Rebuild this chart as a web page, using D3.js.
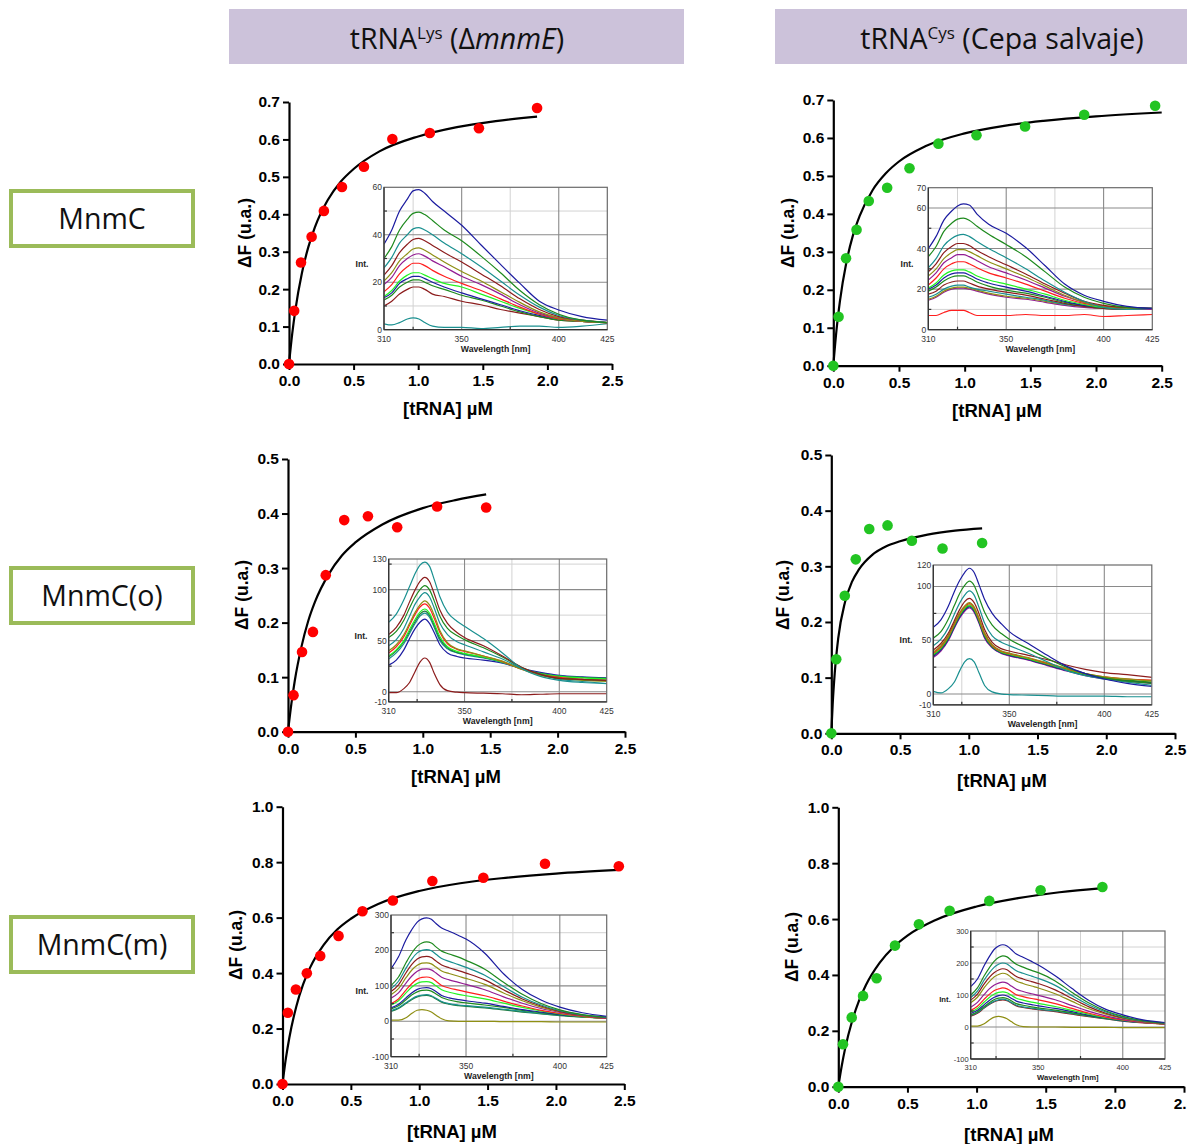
<!DOCTYPE html>
<html>
<head>
<meta charset="utf-8">
<script src="https://cdn.jsdelivr.net/npm/d3@7"></script>
<style>
  body { margin: 0; background: #fff; }
  svg { display: block; }
</style>
</head>
<body>
<svg id="fig" width="1187" height="1144"></svg>
<script>
// ================= DATA =================
const rowLabels = ["MnmC", "MnmC(o)", "MnmC(m)"];

// Titration: tRNA concentration (µM) vs fluorescence change ΔF (u.a.)
const concLysMnmC = [0, 0.04, 0.093, 0.175, 0.27, 0.41, 0.58, 0.80, 1.09, 1.47, 1.92];
const dFLysMnmC   = [0, 0.142, 0.271, 0.340, 0.409, 0.473, 0.527, 0.601, 0.617, 0.630, 0.684];
const concCysMnmC = [0, 0.04, 0.097, 0.177, 0.27, 0.41, 0.58, 0.80, 1.09, 1.46, 1.91, 2.45];
const dFCysMnmC   = [0, 0.129, 0.283, 0.358, 0.434, 0.469, 0.520, 0.585, 0.607, 0.630, 0.661, 0.685];
const concLysMnmCo = [0, 0.041, 0.104, 0.185, 0.28, 0.417, 0.593, 0.81, 1.106, 1.47];
const dFLysMnmCo   = [0, 0.067, 0.146, 0.183, 0.287, 0.388, 0.395, 0.375, 0.413, 0.411];
const concCysMnmCo = [0, 0.036, 0.098, 0.178, 0.276, 0.409, 0.586, 0.809, 1.097];
const dFCysMnmCo   = [0, 0.133, 0.247, 0.3125, 0.367, 0.3735, 0.346, 0.332, 0.342];
const concLysMnmCm = [0, 0.039, 0.098, 0.178, 0.276, 0.41, 0.585, 0.807, 1.096, 1.469, 1.92, 2.46];
const dFLysMnmCm   = [0, 0.257, 0.341, 0.399, 0.462, 0.534, 0.623, 0.662, 0.732, 0.744, 0.794, 0.785];
const concCysMnmCm = [0, 0.034, 0.097, 0.179, 0.277, 0.41, 0.583, 0.805, 1.092, 1.463, 1.91];
const dFCysMnmCm   = [0, 0.152, 0.248, 0.325, 0.388, 0.505, 0.581, 0.630, 0.665, 0.703, 0.715];

// Saturation-binding fit lines
const fitXLysMnmC = [0, 0.025, 0.05, 0.1, 0.15, 0.2, 0.3, 0.4, 0.5, 0.7, 1.0, 1.3, 1.6, 1.92];
const fitYLysMnmC = [0, 0.081, 0.146, 0.243, 0.313, 0.365, 0.438, 0.487, 0.521, 0.568, 0.608, 0.633, 0.649, 0.661];
const fitXCysMnmC = [0, 0.025, 0.05, 0.1, 0.15, 0.2, 0.3, 0.4, 0.5, 0.7, 1.0, 1.3, 1.6, 2.0, 2.5];
const fitYCysMnmC = [0, 0.096, 0.169, 0.273, 0.344, 0.394, 0.463, 0.507, 0.538, 0.578, 0.612, 0.632, 0.645, 0.657, 0.667];
const fitXLysMnmCo = [0, 0.025, 0.05, 0.1, 0.15, 0.2, 0.3, 0.4, 0.5, 0.7, 1.0, 1.25, 1.47];
const fitYLysMnmCo = [0, 0.051, 0.093, 0.156, 0.203, 0.238, 0.288, 0.323, 0.347, 0.380, 0.410, 0.425, 0.435];
const fitXCysMnmCo = [0, 0.01, 0.025, 0.05, 0.1, 0.15, 0.2, 0.3, 0.4, 0.5, 0.7, 0.9, 1.097];
const fitYCysMnmCo = [0, 0.052, 0.108, 0.170, 0.236, 0.272, 0.294, 0.321, 0.336, 0.345, 0.357, 0.364, 0.368];
const fitXLysMnmCm = [0, 0.025, 0.05, 0.1, 0.15, 0.2, 0.3, 0.4, 0.5, 0.7, 1.0, 1.3, 1.6, 2.0, 2.46];
const fitYLysMnmCm = [0, 0.093, 0.167, 0.278, 0.358, 0.418, 0.501, 0.557, 0.596, 0.649, 0.696, 0.724, 0.742, 0.759, 0.772];
const fitXCysMnmCm = [0, 0.025, 0.05, 0.1, 0.15, 0.2, 0.3, 0.4, 0.5, 0.7, 1.0, 1.3, 1.6, 1.91];
const fitYCysMnmCm = [0, 0.075, 0.138, 0.235, 0.308, 0.364, 0.444, 0.500, 0.541, 0.596, 0.645, 0.675, 0.696, 0.711];

const xTickValues = [0, 0.5, 1.0, 1.5, 2.0, 2.5];

// Emission spectra (wavelength in nm, intensity)
const wlRow1  = [310, 314, 318, 322, 325, 328, 331, 335, 341, 350, 360, 370, 380, 390, 400, 412, 425];
const wlRow23 = [310, 314, 318, 321, 324, 326.5, 329, 331.5, 334, 337, 341, 346, 350, 360, 370, 380, 390, 400, 412, 425];

const specLysMnmC = [
  [36, 42, 50, 55, 58.5, 59, 57.5, 54, 50, 44, 35.7, 27.5, 19.5, 12, 8.3, 5.5, 4],
  [30, 35, 42, 46.5, 49, 49.5, 48.5, 46, 42, 37.5, 31, 24, 16.5, 10.5, 6.5, 4, 3],
  [26, 30.5, 36.5, 40, 42.5, 43, 42, 40, 36.5, 32, 26.5, 20.5, 14.5, 9.5, 6, 4, 3],
  [23, 27, 32.5, 36, 38, 38.5, 37.5, 35.5, 32.5, 28.5, 23.5, 18.5, 13, 8.5, 5.5, 4, 3],
  [20.5, 24, 29, 32, 34, 34.5, 33.5, 31.5, 28.5, 24.5, 20.5, 16, 11.5, 7.5, 5, 3.5, 3],
  [19, 22, 27, 30, 31.5, 32, 31, 29, 26.5, 22.5, 19, 15, 10.5, 7, 5, 3.5, 3],
  [16, 19, 23.5, 26.5, 28, 28, 27, 25, 22.5, 19.5, 16.5, 13, 9.5, 6.5, 4.5, 3.5, 3],
  [14, 16.5, 20.5, 23, 24, 24, 23, 21.5, 19.5, 18, 15, 12, 9, 6.5, 4.5, 3.5, 3],
  [13.5, 15.5, 19.5, 21.5, 22.5, 22.5, 21.5, 20, 18, 15.5, 13, 10.5, 8, 6, 4.5, 3.5, 3],
  [12.5, 14.5, 18, 20, 21, 21, 20, 18.5, 17, 14.5, 12.5, 10, 7.5, 5.5, 4, 3.5, 3],
  [10, 12, 15, 17, 18, 18, 17, 15, 14, 12, 10.5, 8.5, 7, 5.5, 4, 3.5, 3],
  [2.5, 2, 3, 4.5, 5, 4.5, 3, 1.5, 1, 1, 0.5, 1, 1.5, 1.5, 1, 1.5, 2.5]
];
const specCysMnmC = [
  [40, 46, 54, 58.5, 61, 62, 61.5, 57, 52, 47.5, 40.5, 31.5, 22.5, 17, 14, 11.5, 10.5],
  [36, 41, 48.5, 52.5, 54.5, 55, 54, 51, 47, 42, 36, 28.5, 21, 16, 13, 11, 10.5],
  [30.5, 35, 41.5, 45, 46.5, 47, 46, 43.5, 40, 35.5, 30, 24, 18.5, 14, 11, 10, 10.5],
  [28.5, 32.5, 38, 41, 42.5, 42.5, 41.5, 39, 36, 32, 27.5, 22.5, 18, 14, 12, 11, 10.5],
  [26.5, 30, 35, 38, 39.5, 39.5, 38.5, 36.5, 33.5, 30, 26, 21.5, 17, 13.5, 11.5, 10.5, 10.5],
  [24.5, 28, 33, 35.5, 37, 37, 36, 34, 31, 28, 24.5, 20.5, 16.5, 13.5, 11.5, 10.5, 10],
  [22, 25.5, 30, 32.5, 33.5, 33.5, 32.5, 30.5, 28, 25.5, 22.5, 19, 15.5, 13, 11.5, 10.5, 10],
  [20.5, 23, 27, 29, 29.5, 29.5, 28.5, 26.5, 24.5, 22.5, 20, 17.5, 14.5, 12.5, 11, 10.5, 10],
  [20, 22, 25.5, 27.5, 28, 28, 27, 25, 23, 21, 19, 16.5, 14, 12, 11, 10.5, 10],
  [19, 21, 24, 26, 26.5, 26.5, 25.5, 23.5, 21.5, 19.5, 18, 16, 13.5, 12, 11, 10.5, 10],
  [17.5, 19, 22, 23.5, 24, 24, 23, 21.5, 20, 18.5, 17, 15, 13, 11.5, 10.5, 10, 10],
  [16, 17.5, 20, 21.5, 22, 22, 21, 20, 19, 17.5, 16, 14.5, 12.5, 11.5, 10.5, 10, 10],
  [15, 16.5, 19, 20.5, 21, 21, 20.5, 19.5, 18, 16.5, 15.5, 14, 12.5, 11.5, 10.5, 10, 10],
  [14.5, 16, 18.5, 20, 20.5, 20.5, 20, 19, 17.5, 16, 15, 13.5, 12, 11, 10.5, 10, 10],
  [7, 7, 8.5, 9.5, 9.5, 9.5, 8.5, 7, 7, 7, 7.5, 7, 7, 7.5, 6.5, 7, 7.5]
];
const specLysMnmCo = [
  [68, 76, 90, 103, 116, 124, 127, 123, 110, 93, 78, 69, 64, 52, 38, 23, 15, 11, 9, 8],
  [56, 63, 75, 88, 100, 108, 112, 108, 96, 80, 67, 58, 53, 45, 35, 24, 17, 13, 12, 11],
  [53, 59, 70, 82, 93, 100, 104, 100, 89, 74, 62, 55, 51, 43, 34, 24, 17, 13, 12, 11],
  [45, 51, 62, 74, 86, 93, 97, 93, 82, 67, 56, 49, 46, 39, 32, 23, 17, 12, 10, 8],
  [40, 46, 56, 67, 78, 85, 89, 85, 75, 60, 48, 42, 40, 35, 30, 22, 16, 13, 11, 10],
  [38, 44, 54, 65, 76, 83, 86, 82, 72, 58, 47, 41.5, 39.5, 35, 29.5, 22, 17, 14, 12, 11],
  [35, 41, 50, 61, 71, 78, 81, 77, 67, 54, 44, 39.5, 37.5, 34, 29, 22.5, 17.5, 15, 13.5, 12.5],
  [34, 40, 49, 59, 69, 76, 79, 75, 65, 52, 43, 38.5, 37, 33.5, 29, 22.5, 18, 15, 14, 13],
  [32, 38, 47, 57, 67, 74, 77, 73, 63, 50, 42, 38, 36, 33, 28.5, 22.5, 18, 15.5, 14, 13],
  [26, 31, 41, 52, 62, 68, 71, 67, 58, 46, 38, 34.5, 33, 31, 28, 23, 19, 16, 14.5, 13.5],
  [-1, -1, 3, 9, 20, 29, 33, 29, 18, 7, 1, -0.5, -1, -1.5, -2, -3, -2.5, -2, -2, -2]
];
const specCysMnmCo = [
  [62, 69, 82, 95, 106, 113, 117, 113, 102, 88, 75, 65, 58, 47, 36, 26, 19, 14, 10, 7],
  [52, 58, 70, 82, 94, 101, 105, 101, 90, 76, 64, 56, 51, 42, 33, 25, 19, 15, 12, 10],
  [45, 51, 62, 74, 85, 92, 96, 92, 81, 66, 54, 48, 45, 38, 30, 22, 17, 14, 11, 8],
  [41, 47, 57, 68, 79, 86, 89, 85, 75, 60, 48, 42, 40, 36, 32, 27, 23, 20, 18, 15.5],
  [39, 45, 55, 66, 76, 82, 85, 81, 71, 57, 46, 40, 38, 34, 29, 24, 19, 16, 14, 12],
  [38, 44, 54, 65, 75, 81, 84, 80, 70, 56, 45, 39.5, 37.5, 33.5, 28.5, 23.5, 19, 16, 14, 13],
  [37, 43, 53, 64, 74, 80, 83, 79, 69, 55, 44.5, 39, 37, 33, 28, 23, 18.5, 15.5, 14, 12.5],
  [36, 42, 52, 63, 73, 79, 82, 78, 68, 54, 44, 38.5, 36.5, 32.5, 27.5, 22.5, 18, 15, 13, 11],
  [35, 41, 51, 62, 72, 78, 81, 77, 67, 53, 43.5, 38, 36, 32, 27, 22, 17.5, 14.5, 12.5, 10.5],
  [34, 40, 50, 61, 71, 77, 80, 76, 66, 52, 43, 37.5, 35.5, 31.5, 26.5, 21.5, 17, 14, 12, 10],
  [2.5, 1, 5, 11, 22, 30, 33, 30, 20, 8, 2, 0, -0.5, -1, -1.5, -2, -2, -2, -2.5, -2.5]
];
const specLysMnmCm = [
  [148, 182, 230, 258, 280, 289, 292, 288, 276, 263, 254, 242, 232, 192, 134, 90, 60, 40, 24, 14],
  [101, 125, 165, 192, 212, 221, 224, 221, 210, 198, 190, 181, 172, 147, 110, 76, 50, 32, 19, 12],
  [92, 113, 150, 175, 193, 200, 202, 199, 189, 177, 169, 160, 152, 130, 98, 68, 46, 30, 18, 11],
  [84, 103, 137, 160, 176, 182, 183, 180, 170, 159, 151, 143, 136, 117, 89, 63, 43, 28, 17, 10],
  [75, 92, 123, 144, 158, 164, 165, 162, 153, 142, 135, 127, 121, 104, 80, 58, 40, 27, 16, 10],
  [65, 80, 108, 127, 141, 147, 148, 145, 136, 124, 117, 110, 104, 89, 69, 51, 36, 25, 15, 9],
  [50, 63, 88, 106, 119, 124, 125, 122, 113, 101, 94, 88, 83, 72, 57, 43, 31, 22, 14, 8],
  [46, 58, 80, 96, 107, 111, 112, 109, 100, 89, 82, 76, 72, 63, 51, 39, 29, 21, 13, 8],
  [38, 48, 66, 80, 90, 94, 95, 92, 84, 73, 66, 61, 58, 51, 42, 33, 26, 19, 13, 8],
  [35, 44, 61, 74, 83, 87, 88, 85, 77, 67, 60, 55, 52, 46, 39, 31, 24, 18, 12, 8],
  [30, 38, 52, 63, 71, 74, 75, 72, 65, 56, 50, 46, 44, 40, 34, 28, 22, 17, 12, 9],
  [28, 36, 50, 61, 69, 72, 73, 70, 63, 54, 48, 44, 42, 38, 32, 26, 21, 16, 12, 9],
  [3, 3, 10, 22, 31, 33, 31, 26, 17, 7, 1, 0, 0, 0, -1, -1, -1, -2, -2, -2]
];
const specCysMnmCm = [
  [126, 150, 192, 220, 243, 253, 257, 253, 242, 228, 218, 205, 194, 160, 120, 83, 55, 38, 22, 14],
  [100, 122, 160, 185, 206, 217, 222, 219, 208, 196, 187, 177, 170, 144, 108, 75, 50, 33, 20, 13],
  [92, 112, 147, 169, 187, 196, 200, 197, 187, 176, 168, 159, 152, 130, 98, 69, 47, 31, 19, 12],
  [84, 103, 135, 155, 170, 178, 182, 179, 169, 158, 150, 142, 136, 116, 89, 63, 43, 29, 18, 11],
  [76, 93, 123, 142, 157, 164, 168, 165, 155, 144, 136, 128, 122, 104, 80, 57, 40, 27, 17, 11],
  [62, 77, 102, 119, 131, 137, 140, 137, 128, 118, 111, 104, 99, 85, 67, 49, 35, 24, 15, 10],
  [52, 65, 87, 102, 114, 119, 122, 119, 111, 101, 95, 89, 85, 73, 58, 43, 31, 22, 14, 9],
  [47, 58, 78, 92, 103, 108, 110, 107, 99, 90, 84, 78, 74, 64, 52, 40, 29, 21, 14, 9],
  [42, 52, 70, 83, 93, 98, 100, 97, 90, 81, 75, 70, 66, 58, 48, 37, 28, 20, 14, 10],
  [38, 48, 64, 76, 86, 90, 92, 89, 82, 73, 68, 63, 60, 53, 44, 35, 27, 20, 14, 10],
  [36, 45, 61, 72, 81, 85, 87, 84, 77, 68, 63, 59, 56, 50, 42, 34, 26, 19, 14, 10],
  [34, 43, 59, 70, 79, 83, 85, 82, 75, 66, 61, 57, 54, 48, 40, 32, 25, 18, 13, 10],
  [3, 3, 10, 22, 31, 33, 31, 26, 17, 7, 1, 0, 0, 0, -1, -1, -1, -2, -2, -2]
];

// Inset axis labels
const insetXLabels = [310, 350, 400, 425];
const insetYLabelsLysMnmC = [0, 20, 40, 60];
const insetYLabelsCysMnmC = [0, 20, 40, 60, 70];
const insetYLabelsLysMnmCo = [-10, 0, 50, 100, 130];
const insetYLabelsCysMnmCo = [-10, 0, 50, 100, 120];
const insetYLabelsMnmCm = [-100, 0, 100, 200, 300];

// ================= STYLE =================
const FONT = "Arial, 'Liberation Sans', Helvetica, sans-serif";
const HEAD_FONT = "'Open Sans', 'Noto Sans', 'DejaVu Sans', sans-serif";
const C = {
  blue: "#1c1ca0", green: "#1e8a1e", teal: "#1a9090", maroon: "#8c1c1c",
  olive: "#8f8f14", purple: "#931d93", red: "#ff1e1e", lime: "#22f522",
  dgreen: "#1f7a3a"
};
const RED_DOT = "#ff0000", GREEN_DOT = "#22c422";

const svg = d3.select("#fig");

// ---------- column headers ----------
function header(x, w, cx, parts) {
  svg.append("rect").attr("x", x).attr("y", 9).attr("width", w).attr("height", 55)
    .attr("fill", "#ccc2da");
  const t = svg.append("text").attr("x", cx).attr("y", 49)
    .attr("text-anchor", "middle")
    .style("font-family", HEAD_FONT).style("font-size", "28.5px").style("fill", "#111");
  parts.forEach(p => {
    const s = t.append("tspan").text(p.t);
    if (p.sup) s.attr("dy", -10).style("font-size", "17px");
    if (p.down) s.attr("dy", 10);
    if (p.it) s.style("font-style", "italic");
  });
}
header(229, 455, 457, [{t: "tRNA"}, {t: "Lys", sup: true}, {t: " (\u0394", down: true}, {t: "mnmE", it: true}, {t: ")"}]);
header(775, 412, 1002, [{t: "tRNA"}, {t: "Cys", sup: true}, {t: " (Cepa salvaje)", down: true}]);

// ---------- row labels ----------
const rowBoxY = [191, 568, 917];
rowLabels.forEach((lab, i) => {
  svg.append("rect").attr("x", 11).attr("y", rowBoxY[i]).attr("width", 182).attr("height", 55)
    .attr("fill", "#fff").attr("stroke", "#9bbb59").attr("stroke-width", 4);
  svg.append("text").attr("x", 102).attr("y", rowBoxY[i] + 38)
    .attr("text-anchor", "middle")
    .style("font-family", HEAD_FONT).style("font-size", "28.5px").style("fill", "#111")
    .text(lab);
});

// ---------- titration panels ----------
function drawPanel(L, conc, dF, fitX, fitY, dotColor) {
  const x = d3.scaleLinear().domain([0, 2.5]).range([L.x0, L.x1]);
  const y = d3.scaleLinear().domain([0, L.yMax]).range([L.y0, L.y1]);
  const g = svg.append("g");

  const xa = g.append("g").attr("transform", `translate(0,${L.y0})`)
    .call(d3.axisBottom(x).tickValues(xTickValues).tickFormat(d3.format(".1f"))
      .tickSize(6).tickSizeOuter(0).tickPadding(5));
  const yTicks = d3.range(0, L.yMax + 1e-9, L.yStep);
  const ya = g.append("g").attr("transform", `translate(${L.x0},0)`)
    .call(d3.axisLeft(y).tickValues(yTicks).tickFormat(d3.format(".1f"))
      .tickSize(6).tickSizeOuter(0).tickPadding(3));
  [xa, ya].forEach(a => {
    a.select(".domain").attr("stroke", "#000").attr("stroke-width", 2.2);
    a.selectAll(".tick line").attr("stroke", "#000").attr("stroke-width", 2);
    a.selectAll(".tick text").style("font-family", FONT).style("font-size", "15.5px")
      .style("font-weight", "bold").attr("fill", "#000");
  });

  g.append("text").attr("x", L.xt[0]).attr("y", L.xt[1]).attr("text-anchor", "middle")
    .style("font-family", FONT).style("font-size", "18.5px").style("font-weight", "bold")
    .text("[tRNA] \u00b5M");
  g.append("text").attr("transform", `translate(${L.yt[0]},${L.yt[1]}) rotate(-90)`)
    .attr("text-anchor", "middle").attr("dy", "0.35em")
    .style("font-family", FONT).style("font-size", "17.5px").style("font-weight", "bold")
    .text("\u0394F (u.a.)");

  const line = d3.line().x(d => x(d[0])).y(d => y(d[1])).curve(d3.curveMonotoneX);
  g.append("path").datum(fitX.map((v, i) => [v, fitY[i]]))
    .attr("d", line).attr("fill", "none").attr("stroke", "#000").attr("stroke-width", 2.2);

  g.selectAll("circle.pt").data(conc.map((v, i) => [v, dF[i]])).join("circle")
    .attr("class", "pt").attr("cx", d => x(d[0])).attr("cy", d => y(d[1]))
    .attr("r", 5.3).attr("fill", dotColor);
}

// ---------- spectra insets ----------
let clipId = 0;
function drawInset(I, wl, curves, colors, yLabels) {
  const x = d3.scaleLinear().domain([310, 425]).range([I.l, I.r]);
  const y = d3.scaleLinear().domain([I.yMin, I.yMax]).range([I.b, I.t]);
  const g = svg.append("g");
  g.append("rect").attr("x", I.l).attr("y", I.t).attr("width", I.r - I.l).attr("height", I.b - I.t)
    .attr("fill", "#fff");

  // light grid
  [325, 375].forEach(v => g.append("line").attr("x1", x(v)).attr("x2", x(v)).attr("y1", I.t).attr("y2", I.b)
    .attr("stroke", "#d2d2d2").attr("stroke-width", 1));
  I.minor.forEach(v => g.append("line").attr("x1", I.l).attr("x2", I.r).attr("y1", y(v)).attr("y2", y(v))
    .attr("stroke", "#d2d2d2").attr("stroke-width", 1));
  // dark grid
  [350, 400].forEach(v => g.append("line").attr("x1", x(v)).attr("x2", x(v)).attr("y1", I.t).attr("y2", I.b)
    .attr("stroke", "#8a8a8a").attr("stroke-width", 1.1));
  I.major.forEach(v => g.append("line").attr("x1", I.l).attr("x2", I.r).attr("y1", y(v)).attr("y2", y(v))
    .attr("stroke", "#8a8a8a").attr("stroke-width", 1.1));

  const id = "clip" + (clipId++);
  svg.append("clipPath").attr("id", id).append("rect")
    .attr("x", I.l).attr("y", I.t).attr("width", I.r - I.l).attr("height", I.b - I.t);
  const line = d3.line().x((d, i) => x(wl[i])).y(d => y(d)).curve(d3.curveMonotoneX);
  const cg = g.append("g").attr("clip-path", `url(#${id})`);
  curves.slice().reverse().forEach((c, k) => {
    const idx = curves.length - 1 - k;
    cg.append("path").attr("d", line(c)).attr("fill", "none")
      .attr("stroke", colors[idx]).attr("stroke-width", 1.2);
  });

  // frame
  g.append("rect").attr("x", I.l).attr("y", I.t).attr("width", I.r - I.l).attr("height", I.b - I.t)
    .attr("fill", "none").attr("stroke", "#6a6a6a").attr("stroke-width", 1.2);
  g.append("line").attr("x1", I.l).attr("x2", I.l).attr("y1", I.t).attr("y2", I.b)
    .attr("stroke", "#333").attr("stroke-width", 1.3);
  g.append("line").attr("x1", I.l).attr("x2", I.r).attr("y1", I.b).attr("y2", I.b)
    .attr("stroke", "#333").attr("stroke-width", 1.3);
  // minor ticks
  I.minor.forEach(v => g.append("line").attr("x1", I.l).attr("x2", I.l + 3).attr("y1", y(v)).attr("y2", y(v))
    .attr("stroke", "#333").attr("stroke-width", 1.2));
  [325, 375].forEach(v => g.append("line").attr("x1", x(v)).attr("x2", x(v)).attr("y1", I.b).attr("y2", I.b - 3)
    .attr("stroke", "#333").attr("stroke-width", 1.2));

  // labels
  const fs = I.fs;
  yLabels.forEach(v => g.append("text").attr("x", I.l - 2).attr("y", y(v)).attr("dy", "0.35em")
    .attr("text-anchor", "end").style("font-family", FONT).style("font-size", fs + "px")
    .attr("fill", "#333").text(v));
  insetXLabels.forEach(v => g.append("text").attr("x", x(v)).attr("y", I.b + fs + 3.5)
    .attr("text-anchor", "middle").style("font-family", FONT).style("font-size", fs + "px")
    .attr("fill", "#333").text(v));
  g.append("text").attr("x", (I.l + I.r) / 2).attr("y", I.b + 2 * fs + 5.5)
    .attr("text-anchor", "middle").style("font-family", FONT).style("font-size", (fs + 0.2) + "px")
    .style("font-weight", "bold").attr("fill", "#222").text("Wavelength [nm]");
  g.append("text").attr("x", I.intX).attr("y", I.intY).attr("dy", "0.35em")
    .attr("text-anchor", "middle").style("font-family", FONT).style("font-size", (fs + 0.2) + "px")
    .style("font-weight", "bold").attr("fill", "#222").text("Int.");
}

// ---------- layout ----------
drawPanel({x0: 289, x1: 612, y0: 364, y1: 102, yMax: 0.7, yStep: 0.1, xt: [448, 415], yt: [245, 233]},
  concLysMnmC, dFLysMnmC, fitXLysMnmC, fitYLysMnmC, RED_DOT);
drawPanel({x0: 833.3, x1: 1161.7, y0: 365.7, y1: 100, yMax: 0.7, yStep: 0.1, xt: [997, 417], yt: [788, 233]},
  concCysMnmC, dFCysMnmC, fitXCysMnmC, fitYCysMnmC, GREEN_DOT);
drawPanel({x0: 288, x1: 625, y0: 731.7, y1: 459, yMax: 0.5, yStep: 0.1, xt: [456, 783], yt: [242, 595]},
  concLysMnmCo, dFLysMnmCo, fitXLysMnmCo, fitYLysMnmCo, RED_DOT);
drawPanel({x0: 831.3, x1: 1175, y0: 733.3, y1: 455, yMax: 0.5, yStep: 0.1, xt: [1002, 787], yt: [783, 595]},
  concCysMnmCo, dFCysMnmCo, fitXCysMnmCo, fitYCysMnmCo, GREEN_DOT);
drawPanel({x0: 282.5, x1: 624.3, y0: 1084, y1: 806.7, yMax: 1.0, yStep: 0.2, xt: [452, 1138], yt: [236, 945]},
  concLysMnmCm, dFLysMnmCm, fitXLysMnmCm, fitYLysMnmCm, RED_DOT);
drawPanel({x0: 838.3, x1: 1184, y0: 1086.7, y1: 807.3, yMax: 1.0, yStep: 0.2, xt: [1009, 1141], yt: [792, 947]},
  concCysMnmCm, dFCysMnmCm, fitXCysMnmCm, fitYCysMnmCm, GREEN_DOT);

drawInset({l: 384, r: 607.3, t: 187.3, b: 329.7, yMin: 0, yMax: 60, major: [20, 40], minor: [10, 30, 50],
  fs: 8.5, intX: 362, intY: 264},
  wlRow1, specLysMnmC,
  [C.blue, C.green, C.teal, C.maroon, C.olive, C.purple, C.red, C.lime, C.blue, C.green, C.maroon, C.teal],
  insetYLabelsLysMnmC);
drawInset({l: 928.3, r: 1152.3, t: 187.7, b: 329.7, yMin: 0, yMax: 70, major: [20, 40, 60], minor: [10, 30, 50],
  fs: 8.5, intX: 907, intY: 264},
  wlRow1, specCysMnmC,
  [C.blue, C.green, C.teal, C.maroon, C.olive, C.purple, C.red, C.lime, C.blue, C.green, C.maroon, C.teal, C.olive, C.purple, C.red],
  insetYLabelsCysMnmC);
drawInset({l: 388.7, r: 606.7, t: 559, b: 701.9, yMin: -10, yMax: 130, major: [0, 50, 100], minor: [25, 75, 125],
  fs: 8.5, intX: 361, intY: 636},
  wlRow23, specLysMnmCo,
  [C.teal, C.maroon, C.green, C.teal, C.olive, C.red, C.lime, C.dgreen, C.teal, C.blue, C.maroon],
  insetYLabelsLysMnmCo);
drawInset({l: 933.3, r: 1151.8, t: 565, b: 704.8, yMin: -10, yMax: 120, major: [0, 50, 100], minor: [25, 75],
  fs: 8.5, intX: 906, intY: 640},
  wlRow23, specCysMnmCo,
  [C.blue, C.green, C.teal, C.maroon, C.olive, C.red, C.lime, C.green, C.blue, C.purple, C.teal],
  insetYLabelsCysMnmCo);
drawInset({l: 391, r: 606.7, t: 915, b: 1056.7, yMin: -100, yMax: 300, major: [0, 100, 200], minor: [-50, 50, 150, 250],
  fs: 8.5, intX: 362, intY: 991},
  wlRow23, specLysMnmCm,
  [C.blue, C.green, C.teal, C.maroon, C.olive, C.purple, C.red, C.lime, C.blue, C.green, C.teal, C.dgreen, C.olive],
  insetYLabelsMnmCm);
drawInset({l: 970.7, r: 1165, t: 931, b: 1059, yMin: -100, yMax: 300, major: [0, 100, 200], minor: [-50, 50, 150, 250],
  fs: 7.5, intX: 945, intY: 999},
  wlRow23, specCysMnmCm,
  [C.blue, C.green, C.teal, C.maroon, C.olive, C.purple, C.red, C.lime, C.blue, C.green, C.teal, C.maroon, C.olive],
  insetYLabelsMnmCm);
</script>
</body>
</html>
